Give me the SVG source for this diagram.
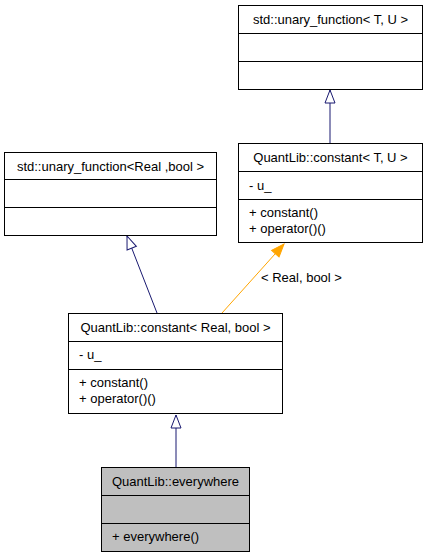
<svg xmlns="http://www.w3.org/2000/svg" width="427" height="557" viewBox="0 0 427 557">
<style>
  .box { fill: #ffffff; stroke: #000000; stroke-width: 1; }
  .cur { fill: #bfbfbf; stroke: #000000; stroke-width: 1; }
  .sep { stroke: #000000; stroke-width: 1; }
  text { font-family: "Liberation Sans", Arial, sans-serif; font-size: 13px; fill: #000000; }
  .c { text-anchor: middle; }
  .inh { fill: none; stroke: #191970; stroke-width: 1; }
  .tpl { fill: none; stroke: #ffa500; stroke-width: 1; }
</style>
<defs>
  <!-- hollow triangle for inheritance, solid one for template instantiation -->
  <marker id="open" viewBox="0 0 15 12" markerWidth="15" markerHeight="12" refX="14" refY="6" orient="auto" markerUnits="userSpaceOnUse" overflow="visible">
    <path d="M1,1 L14,6 L1,11 Z" fill="#ffffff" stroke="#191970" stroke-width="1"/>
  </marker>
  <marker id="solid" viewBox="0 0 15 12" markerWidth="15" markerHeight="12" refX="14" refY="6" orient="auto" markerUnits="userSpaceOnUse" overflow="visible">
    <path d="M1,1 L14,6 L1,11 Z" fill="#ffa500" stroke="#ffa500" stroke-width="1"/>
  </marker>
</defs>
<rect width="427" height="557" fill="#ffffff"/>

<g id="connectors">
  <path class="inh" d="M330,143 L330,90" marker-end="url(#open)"/>
  <path class="inh" d="M157,313 L127,236" marker-end="url(#open)"/>
  <path class="tpl" d="M222,313 L284,244" marker-end="url(#solid)"/>
  <text x="261" y="282">&lt; Real, bool &gt;</text>
  <path class="inh" d="M176,467 L176,415" marker-end="url(#open)"/>
</g>

<g id="unary_function_TU">
  <rect class="box" x="238.5" y="5.5" width="184" height="84"/>
  <line class="sep" x1="238.5" y1="33.5" x2="422.5" y2="33.5"/>
  <line class="sep" x1="238.5" y1="61.5" x2="422.5" y2="61.5"/>
  <text class="c" x="330.5" y="24">std::unary_function&lt; T, U &gt;</text>
</g>

<g id="constant_TU">
  <rect class="box" x="238.5" y="143.5" width="184" height="99"/>
  <line class="sep" x1="238.5" y1="171.5" x2="422.5" y2="171.5"/>
  <line class="sep" x1="238.5" y1="199.5" x2="422.5" y2="199.5"/>
  <text class="c" x="330.5" y="162">QuantLib::constant&lt; T, U &gt;</text>
  <text x="249" y="190">- u_</text>
  <text x="249" y="217">+ constant()</text>
  <text x="249" y="233">+ operator()()</text>
</g>

<g id="unary_function_Real_bool">
  <rect class="box" x="4.5" y="152.5" width="212" height="83"/>
  <line class="sep" x1="4.5" y1="179.5" x2="216.5" y2="179.5"/>
  <line class="sep" x1="4.5" y1="207.5" x2="216.5" y2="207.5"/>
  <text class="c" x="110.5" y="171">std::unary_function&lt;Real ,bool &gt;</text>
</g>

<g id="constant_Real_bool">
  <rect class="box" x="68.5" y="313.5" width="214" height="100"/>
  <line class="sep" x1="68.5" y1="341.5" x2="282.5" y2="341.5"/>
  <line class="sep" x1="68.5" y1="369.5" x2="282.5" y2="369.5"/>
  <text class="c" x="175.5" y="332">QuantLib::constant&lt; Real, bool &gt;</text>
  <text x="79" y="359">- u_</text>
  <text x="79" y="387">+ constant()</text>
  <text x="79" y="403">+ operator()()</text>
</g>

<g id="everywhere">
  <rect class="cur" x="101.5" y="467.5" width="148" height="84"/>
  <line class="sep" x1="101.5" y1="495.5" x2="249.5" y2="495.5"/>
  <line class="sep" x1="101.5" y1="523.5" x2="249.5" y2="523.5"/>
  <text class="c" x="175.5" y="486">QuantLib::everywhere</text>
  <text x="112" y="541">+ everywhere()</text>
</g>
</svg>
